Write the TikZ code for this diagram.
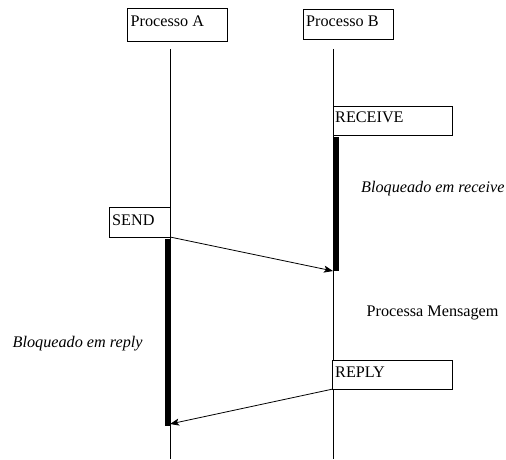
\documentclass[tikz,border=0pt]{standalone}
\usepackage{fontspec}
\setmainfont{Liberation Serif}
\usetikzlibrary{arrows.meta}
\begin{document}
\begin{tikzpicture}[x=1pt,y=-1pt,
  lbl/.style={font=\fontsize{16.2}{19}\selectfont, inner sep=0pt, anchor=base west},
  ilbl/.style={lbl, font=\fontsize{16.2}{19}\selectfont\itshape},
  frame/.style={draw, line width=0.8pt},
  life/.style={line width=0.8pt},
  bar/.style={fill=black, draw=none},
  msg/.style={line width=0.8pt, -{Stealth[length=9pt,width=7pt,inset=2pt]}}]
\useasboundingbox (0,0) rectangle (506,460);
% boxes
\draw[frame] (127,8) rectangle (227,41);
\node[lbl] (pa) at (130.5,26.5) {Processo A};
\draw[frame] (303,9) rectangle (393,39);
\node[lbl] (pb) at (306,26.5) {Processo B};
% lifelines
\coordinate (aTop) at (170,49);
\coordinate (aBot) at (170,459);
\coordinate (bTop) at (333,49);
\coordinate (bBot) at (333,459);
\draw[life] (aTop) -- (aBot);
\draw[life] (bTop) -- (bBot);
% RECEIVE
\draw[frame, fill=white] (333,106) rectangle (452,135);
\node[lbl] (recv) at (335,122.5) {RECEIVE};
\fill[bar] (333.5,137) rectangle (338.5,270.5);
% SEND
\draw[frame, fill=white] (109,207) rectangle (170,237);
\node[lbl] (send) at (112,225) {SEND};
\fill[bar] (165,239) rectangle (170.5,426);
% REPLY
\draw[frame, fill=white] (332.5,360) rectangle (452,389);
\node[lbl] (reply) at (335,377) {REPLY};
% messages
\coordinate (sendOut) at (170,237);
\coordinate (sendIn) at (333,271);
\coordinate (replyOut) at (333,389);
\coordinate (replyIn) at (170,424);
\draw[msg] (sendOut) -- (sendIn);
\draw[msg] (replyOut) -- (replyIn);
% annotations
\node[ilbl] (blr) at (361,192) {Bloqueado em receive};
\node[lbl] (pm) at (366.5,316) {Processa Mensagem};
\node[ilbl] (blp) at (12.5,347) {Bloqueado em reply};
\end{tikzpicture}
\end{document}
